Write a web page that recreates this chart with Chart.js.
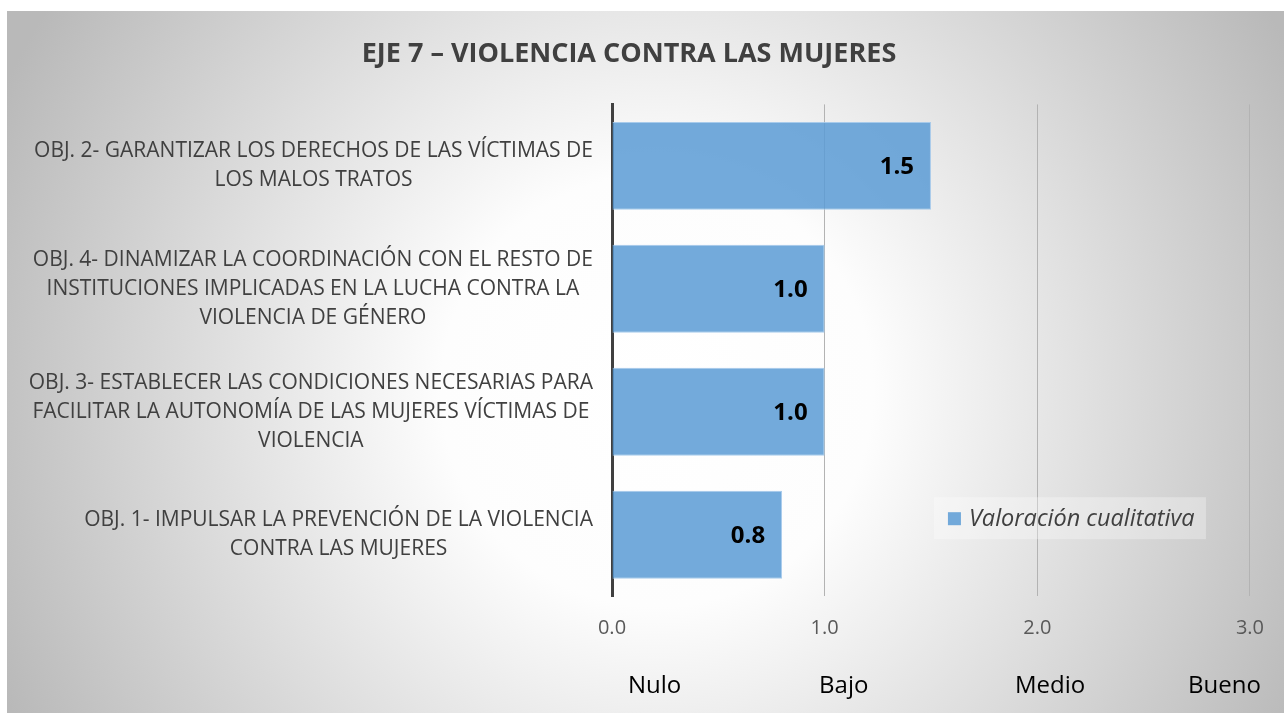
<!DOCTYPE html>
<html>
<head>
<meta charset="utf-8">
<script src="https://cdn.jsdelivr.net/npm/chart.js@4.4.1/dist/chart.umd.min.js"></script>
<style>
  html, body { margin: 0; padding: 0; background: #fff; }
  #wrap { position: absolute; left: 7px; top: 11px; width: 1277px; height: 702px; }
</style>
</head>
<body>
<div id="wrap"><canvas id="chart"></canvas></div>
<script>
const FONT = '"Open Sans", sans-serif';

const categories = [
  ["OBJ. 2- GARANTIZAR LOS DERECHOS DE LAS VÍCTIMAS DE", "LOS MALOS TRATOS"],
  ["OBJ. 4- DINAMIZAR LA COORDINACIÓN CON EL RESTO DE", "INSTITUCIONES IMPLICADAS EN LA LUCHA CONTRA LA", "VIOLENCIA DE GÉNERO"],
  ["OBJ. 3- ESTABLECER LAS CONDICIONES NECESARIAS PARA", "FACILITAR LA AUTONOMÍA DE LAS MUJERES VÍCTIMAS DE", "VIOLENCIA"],
  ["OBJ. 1- IMPULSAR LA PREVENCIÓN DE LA VIOLENCIA", "CONTRA LAS MUJERES"]
];
const valoracion = [1.5, 1.0, 1.0, 0.8];
const seriesName = "Valoración cualitativa";
const scaleTicks = [0, 1, 2, 3];
const scoreLabels = ["Nulo", "Bajo", "Medio", "Bueno"];
const scoreLabelAt = [0.2, 1.09, 2.06, 2.88];

// fondo con degradado radial, como el original
const bgPlugin = {
  id: "bg",
  beforeDraw(chart) {
    const { ctx, width, height } = chart;
    const g = ctx.createRadialGradient(650, 380, 0, 650, 380, 720);
    g.addColorStop(0, "#ffffff");
    g.addColorStop(0.3, "#fdfdfd");
    g.addColorStop(1, "#b9b9b9");
    ctx.save();
    ctx.fillStyle = g;
    ctx.fillRect(0, 0, width, height);
    ctx.restore();
  }
};

// etiquetas de categoría centradas cada una sobre su propia línea más ancha (como Excel)
const catLabelPlugin = {
  id: "catLabels",
  afterDraw(chart) {
    const { ctx } = chart;
    const sc = chart.scales.y;
    const lh = 21 * 1.38;
    ctx.save();
    ctx.font = "21px " + FONT;
    ctx.fillStyle = "#404040";
    ctx.textAlign = "center";
    ctx.textBaseline = "middle";
    sc.ticks.forEach((t, i) => {
      const lines = chart.data.labels[i];
      const w = Math.max(...lines.map(l => ctx.measureText(l).width));
      const cx = sc.right - 19 - w / 2;
      const y0 = sc.getPixelForTick(i) - (lines.length - 1) * lh / 2;
      lines.forEach((l, k) => ctx.fillText(l, cx, y0 + k * lh));
    });
    ctx.restore();
  }
};

const valuePlugin = {
  id: "values",
  afterDatasetsDraw(chart) {
    const { ctx } = chart;
    const meta = chart.getDatasetMeta(0);
    ctx.save();
    ctx.font = "bold 24px " + FONT;
    ctx.fillStyle = "#000";
    ctx.textAlign = "right";
    ctx.textBaseline = "middle";
    meta.data.forEach((bar, i) => {
      ctx.fillText(valoracion[i].toFixed(1), bar.x - 17, bar.y + 1);
    });
    ctx.restore();
  }
};

const legendPlugin = {
  id: "legendBox",
  afterDraw(chart) {
    const { ctx, chartArea } = chart;
    const ds = chart.data.datasets[0];
    const x = chartArea.right - 316, y = chartArea.bottom - 99;
    ctx.save();
    ctx.fillStyle = "rgba(255,255,255,0.3)";
    ctx.fillRect(x, y, 272, 42);
    ctx.fillStyle = ds.backgroundColor;
    ctx.fillRect(x + 14, y + 15, 13, 13);
    ctx.font = "italic 23.5px " + FONT;
    ctx.fillStyle = "#404040";
    ctx.textBaseline = "middle";
    ctx.fillText(ds.label, x + 35, y + 22);
    ctx.restore();
  }
};

new Chart(document.getElementById("chart"), {
  type: "bar",
  data: {
    labels: categories,
    datasets: [{
      label: seriesName,
      data: valoracion,
      backgroundColor: "rgba(91,155,213,0.85)",
      borderColor: "rgba(160,198,234,0.9)",
      borderWidth: 1,
      categoryPercentage: 0.715,
      barPercentage: 1
    }]
  },
  options: {
    indexAxis: "y",
    responsive: true,
    maintainAspectRatio: false,
    animation: false,
    layout: { padding: { left: 0, right: 33, top: 0, bottom: 0 } },
    plugins: {
      legend: { display: false },
      tooltip: { enabled: false },
      title: {
        display: true,
        text: "EJE 7 – VIOLENCIA CONTRA LAS MUJERES",
        color: "#404040",
        font: { family: FONT, size: 27, weight: "bold" },
        padding: { top: 27, bottom: 34 }
      }
    },
    scales: {
      y: {
        grid: { display: false, drawTicks: false },
        border: { display: true, color: "#404040", width: 3 },
        ticks: { display: false },
        afterFit(axis) { axis.width = 605; }
      },
      x: {
        min: 0,
        max: 3,
        grid: { color: "#b3b3b3", drawTicks: false },
        border: { display: false },
        afterBuildTicks(axis) { axis.ticks = scaleTicks.map(v => ({ value: v })); },
        ticks: {
          color: "#595959",
          padding: 20,
          maxRotation: 0,
          font: { family: FONT, size: 20 },
          callback: v => Number(v).toFixed(1)
        }
      },
      x2: {
        type: "linear",
        position: "bottom",
        min: 0,
        max: 3,
        grid: { display: false, drawTicks: false },
        border: { display: false },
        afterBuildTicks(axis) { axis.ticks = scoreLabelAt.map(v => ({ value: v })); },
        ticks: {
          color: "#000",
          padding: 12,
          autoSkip: false,
          maxRotation: 0,
          font: { family: FONT, size: 24 },
          callback: (v, i) => scoreLabels[i]
        }
      }
    }
  },
  plugins: [bgPlugin, catLabelPlugin, valuePlugin, legendPlugin]
});
</script>
</body>
</html>
